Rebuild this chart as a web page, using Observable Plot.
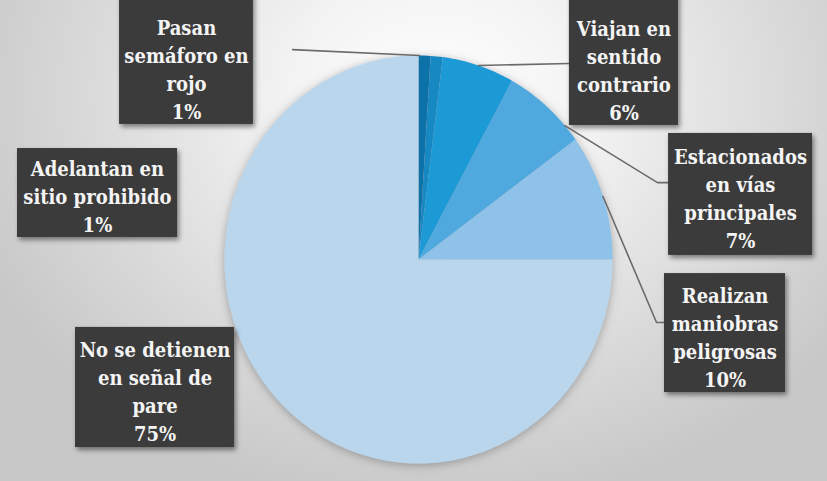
<!DOCTYPE html>
<html>
<head>
<meta charset="utf-8">
<script src="https://cdn.jsdelivr.net/npm/d3@7"></script>
<script src="https://cdn.jsdelivr.net/npm/@observablehq/plot@0.6"></script>
<style>
  html, body { margin: 0; padding: 0; background: #fff; }
  #chart { width: 827px; height: 481px; }
</style>
</head>
<body>
<div id="chart"></div>
<script>
// ---- data ----
const categories = [
  "Pasan semáforo en rojo",
  "Adelantan en sitio prohibido",
  "Viajan en sentido contrario",
  "Estacionados en vías principales",
  "Realizan maniobras peligrosas",
  "No se detienen en señal de pare"
];
const values = [1, 1, 6, 7, 10, 75];
const labelLines = [
  ["Pasan", "semáforo en", "rojo"],
  ["Adelantan en", "sitio prohibido"],
  ["Viajan en", "sentido", "contrario"],
  ["Estacionados", "en vías", "principales"],
  ["Realizan", "maniobras", "peligrosas"],
  ["No se detienen", "en señal de", "pare"]
];
const colors = ["#0f72a8", "#1688c2", "#1b9ad6", "#4fa8de", "#8fc2e9", "#bad6ec"];

// ---- layout (in pie-radius units; pie = unit circle) ----
const boxLayout = [
  {x1: -1.541, x2: -0.851, y1: 1.30, y2: 0.662, tx: -1.196, ty: 0.939},
  {x1: -2.067, x2: -1.242, y1: 0.544, y2: 0.108, tx: -1.655, ty: 0.316},
  {x1: 0.778, x2: 1.340, y1: 1.30, y2: 0.657, tx: 1.059, ty: 0.936},
  {x1: 1.289, x2: 2.031, y1: 0.618, y2: 0.020, tx: 1.660, ty: 0.306},
  {x1: 1.268, x2: 1.892, y1: -0.069, y2: -0.652, tx: 1.580, ty: -0.375},
  {x1: -1.768, x2: -0.948, y1: -0.333, y2: -0.922, tx: -1.358, ty: -0.642}
];
const leaderLayout = [
  {i: 0, frac: 0.1, via: [[-0.649, 1.029]]},
  {i: 2, frac: 0.5, via: [[0.778, 0.961]]},
  {i: 3, frac: 0.8, via: [[1.232, 0.377], [1.289, 0.377]]},
  {i: 4, frac: 0.5, via: [[1.227, -0.309], [1.268, -0.309]]}
];

// ---- build geometry through d3.pie ----
const arcs = d3.pie().sort(null).value(d => d)(values);
const slicePts = [];
arcs.forEach((a, i) => {
  const name = categories[i];
  slicePts.push({name, x: 0, y: 0});
  const n = Math.max(2, Math.ceil((a.endAngle - a.startAngle) / (Math.PI / 180)));
  for (let k = 0; k <= n; k++) {
    const t = a.startAngle + (a.endAngle - a.startAngle) * k / n;
    slicePts.push({name, x: Math.sin(t), y: Math.cos(t)});
  }
});

const leaderPts = [];
leaderLayout.forEach((l, j) => {
  const a = arcs[l.i];
  const t = a.startAngle + (a.endAngle - a.startAngle) * l.frac;
  leaderPts.push({id: j, x: Math.sin(t), y: Math.cos(t)});
  l.via.forEach(([x, y]) => leaderPts.push({id: j, x, y}));
});

const labels = categories.map((c, i) => ({
  name: c,
  ...boxLayout[i],
  label: labelLines[i].join("\n") + "\n" + values[i] + "%"
}));

const svg = Plot.plot({
  width: 827,
  height: 481,
  margin: 0,
  x: {domain: [-2.1546, 2.1082], axis: null},
  y: {domain: [-1.0882, 1.2696], axis: null},
  color: {domain: categories, range: colors},
  style: {
    background: "radial-gradient(ellipse 60% 85% at 53% 20%, #ffffff 0%, #f3f3f3 30%, #dadada 70%, #c8c8c8 100%)",
    overflow: "visible"
  },
  marks: [
    Plot.line(slicePts, {x: "x", y: "y", z: "name", fill: "name", stroke: "none", curve: "linear-closed"}),
    Plot.line(leaderPts, {x: "x", y: "y", z: "id", stroke: "#6b6b6b", strokeWidth: 1.6}),
    Plot.rect(labels, {x1: "x1", x2: "x2", y1: "y1", y2: "y2", fill: "#3b3b3b"}),
    Plot.text(labels, {
      x: "tx", y: "ty", text: "label", fill: "#f4f4f4",
      fontSize: 20, fontWeight: "bold", fontFamily: "DejaVu Serif Condensed",
      lineHeight: 1.4, lineAnchor: "middle", textAnchor: "middle"
    })
  ]
});

// shadows and label font
const ns = "http://www.w3.org/2000/svg";
const defs = document.createElementNS(ns, "defs");
defs.innerHTML = `
  <filter id="boxShadow" x="-20%" y="-20%" width="150%" height="150%">
    <feDropShadow dx="2" dy="3" stdDeviation="2.5" flood-color="#000" flood-opacity="0.45"/>
  </filter>
  <filter id="pieShadow" x="-20%" y="-20%" width="140%" height="140%">
    <feDropShadow dx="0" dy="2" stdDeviation="5" flood-color="#6a6a6a" flood-opacity="0.55"/>
  </filter>`;
svg.insertBefore(defs, svg.firstChild);
const lineGroups = svg.querySelectorAll('g[aria-label="line"]');
if (lineGroups[0]) lineGroups[0].setAttribute("filter", "url(#pieShadow)");
const rectGroup = svg.querySelector('g[aria-label="rect"]');
if (rectGroup) rectGroup.setAttribute("filter", "url(#boxShadow)");
svg.querySelectorAll("text, tspan").forEach(t => {
  t.style.fontFamily = "'DejaVu Serif Condensed', 'DejaVu Serif', serif";
  t.style.fontStretch = "condensed";
});

document.getElementById("chart").appendChild(svg);
</script>
</body>
</html>
